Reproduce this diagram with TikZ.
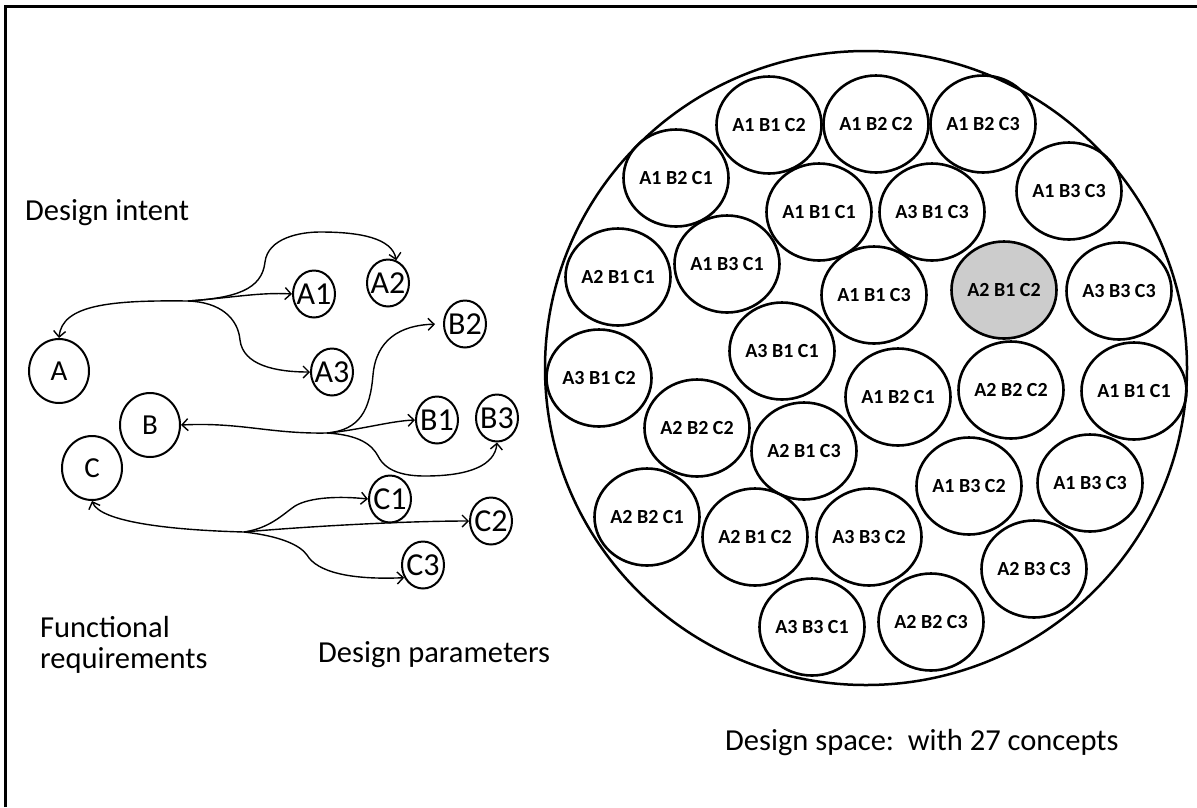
\documentclass[tikz,border=0pt]{standalone}
\usepackage{fontspec}
\setmainfont{Carlito}
\usetikzlibrary{shapes.geometric,arrows.meta}
\begin{document}
\begin{tikzpicture}[x=1pt,y=-1pt,
  dsc/.style={ellipse, draw, line width=2.6pt, minimum width=105pt, minimum height=97pt, inner sep=0pt, font=\fontsize{20}{22}\selectfont\bfseries},
  spacec/.style={ellipse, draw, line width=2.5pt, minimum width=642pt, minimum height=634pt, inner sep=0pt},
  bigc/.style={ellipse, draw, line width=2pt, minimum width=60pt, minimum height=64pt, inner sep=0pt},
  smallc/.style={ellipse, draw, line width=2pt, minimum width=42pt, minimum height=47pt, inner sep=0pt},
  biglab/.style={font=\fontsize{29}{30}\selectfont, inner sep=0pt},
  smalllab/.style={font=\fontsize{32}{34}\selectfont, inner sep=0pt},
  conn/.style={line width=1.4pt, -{Straight Barb[length=6pt,width=12pt]}},
  caption/.style={font=\fontsize{30.5}{31.4}\selectfont, inner sep=0pt, anchor=base west},
  frame/.style={line width=3pt}
]
\useasboundingbox (0,0) rectangle (1197,807);
% frame (top and left edges)
\draw[frame] (5,807) -- (5,6.5) -- (1197,6.5);

% captions
\node[caption] (intent) at (25,220) {Design intent};
\node[caption] (fr) at (40,637) {\vtop{\hbox{Functional}\hbox{requirements}}};
\node[caption] (dp) at (318,662) {Design parameters};
\node[caption] (ds) at (725,750) {Design space:\ \ with 27 concepts};

% left diagram nodes
\node[bigc, label={[biglab]center:A}] (A) at (59,371) {};
\node[bigc, label={[biglab]center:B}] (B) at (150,425) {};
\node[bigc, label={[biglab]center:C}] (C) at (92,468) {};
\node[smallc, label={[smalllab]center:A1}] (A1) at (314,294) {};
\node[smallc, label={[smalllab]center:A2}] (A2) at (388,283) {};
\node[smallc, label={[smalllab]center:A3}] (A3) at (332,372) {};
\node[smallc, label={[smalllab]center:B2}] (B2) at (465,324) {};
\node[smallc, label={[smalllab]center:B1}] (B1) at (437,420) {};
\node[smallc, label={[smalllab]center:B3}] (B3) at (497,418) {};
\node[smallc, label={[smalllab]center:C1}] (C1) at (390,499) {};
\node[smallc, label={[smalllab]center:C2}] (C2) at (491,521) {};
\node[smallc, label={[smalllab]center:C3}] (C3) at (423,565) {};

\coordinate (hA) at (188,301);
\coordinate (hB) at (327,433);
\coordinate (hC) at (244,532);

% A connectors
\draw[conn] (hA) .. controls (110,300) and (62,305) .. (A.north);
\draw[conn] (hA) .. controls (230,298) and (260,292) .. (A1.west);
\draw[conn] (hA) .. controls (235,298) and (262,290) .. (265,262)
                 .. controls (268,238) and (300,232) .. (320,232)
                 .. controls (360,232) and (392,238) .. (A2.70);
\draw[conn] (hA) .. controls (220,302) and (238,318) .. (240,340)
                 .. controls (243,365) and (275,372) .. (A3.west);
% B connectors
\draw[conn] (hB) .. controls (270,434) and (240,422) .. (B.east);
\draw[conn, shorten >=8pt] (hB) .. controls (360,430) and (370,410) .. (373,375)
                 .. controls (376,340) and (400,325) .. (B2.west);
\draw[conn] (hB) .. controls (360,430) and (390,421) .. (B1.west);
\draw[conn] (hB) .. controls (360,435) and (372,445) .. (378,456)
                 .. controls (386,472) and (405,476) .. (425,476)
                 .. controls (470,476) and (495,465) .. (B3.south);
% C connectors
\draw[conn] (hC) .. controls (170,530) and (100,522) .. (C.south);
\draw[conn] (hC) .. controls (270,528) and (282,515) .. (295,506)
                 .. controls (310,497) and (340,496) .. (C1.west);
\draw[conn] (hC) .. controls (300,527) and (400,521) .. (C2.west);
\draw[conn] (hC) .. controls (280,536) and (300,545) .. (307,555)
                 .. controls (317,572) and (350,580) .. (C3.214);

% design space
\node[spacec] (space) at (866,368) {};
\node[dsc] (d1)  at (769,125) {A1 B1 C2};
\node[dsc] (d2)  at (876,124) {A1 B2 C2};
\node[dsc] (d3)  at (983,124) {A1 B2 C3};
\node[dsc] (d4)  at (676,178) {A1 B2 C1};
\node[dsc] (d5)  at (819,212) {A1 B1 C1};
\node[dsc] (d6)  at (932,212) {A3 B1 C3};
\node[dsc] (d7)  at (1069,191) {A1 B3 C3};
\node[dsc] (d8)  at (618,277) {A2 B1 C1};
\node[dsc] (d9)  at (727,264) {A1 B3 C1};
\node[dsc] (d10) at (874,295) {A1 B1 C3};
\node[dsc, fill=black!20] (d11) at (1004,290) {A2 B1 C2};
\node[dsc] (d12) at (1119,291) {A3 B3 C3};
\node[dsc] (d13) at (599,378) {A3 B1 C2};
\node[dsc] (d14) at (782,351) {A3 B1 C1};
\node[dsc] (d15) at (898,397) {A1 B2 C1};
\node[dsc] (d16) at (1011,390) {A2 B2 C2};
\node[dsc] (d17) at (1134,391) {A1 B1 C1};
\node[dsc] (d18) at (697,428) {A2 B2 C2};
\node[dsc] (d19) at (804,451) {A2 B1 C3};
\node[dsc] (d20) at (969,486) {A1 B3 C2};
\node[dsc] (d21) at (1090,483) {A1 B3 C3};
\node[dsc] (d22) at (647,517) {A2 B2 C1};
\node[dsc] (d23) at (755,537) {A2 B1 C2};
\node[dsc] (d24) at (869,537) {A3 B3 C2};
\node[dsc] (d25) at (1034,569) {A2 B3 C3};
\node[dsc] (d26) at (812,627) {A3 B3 C1};
\node[dsc] (d27) at (931,622) {A2 B2 C3};
\end{tikzpicture}
\end{document}
